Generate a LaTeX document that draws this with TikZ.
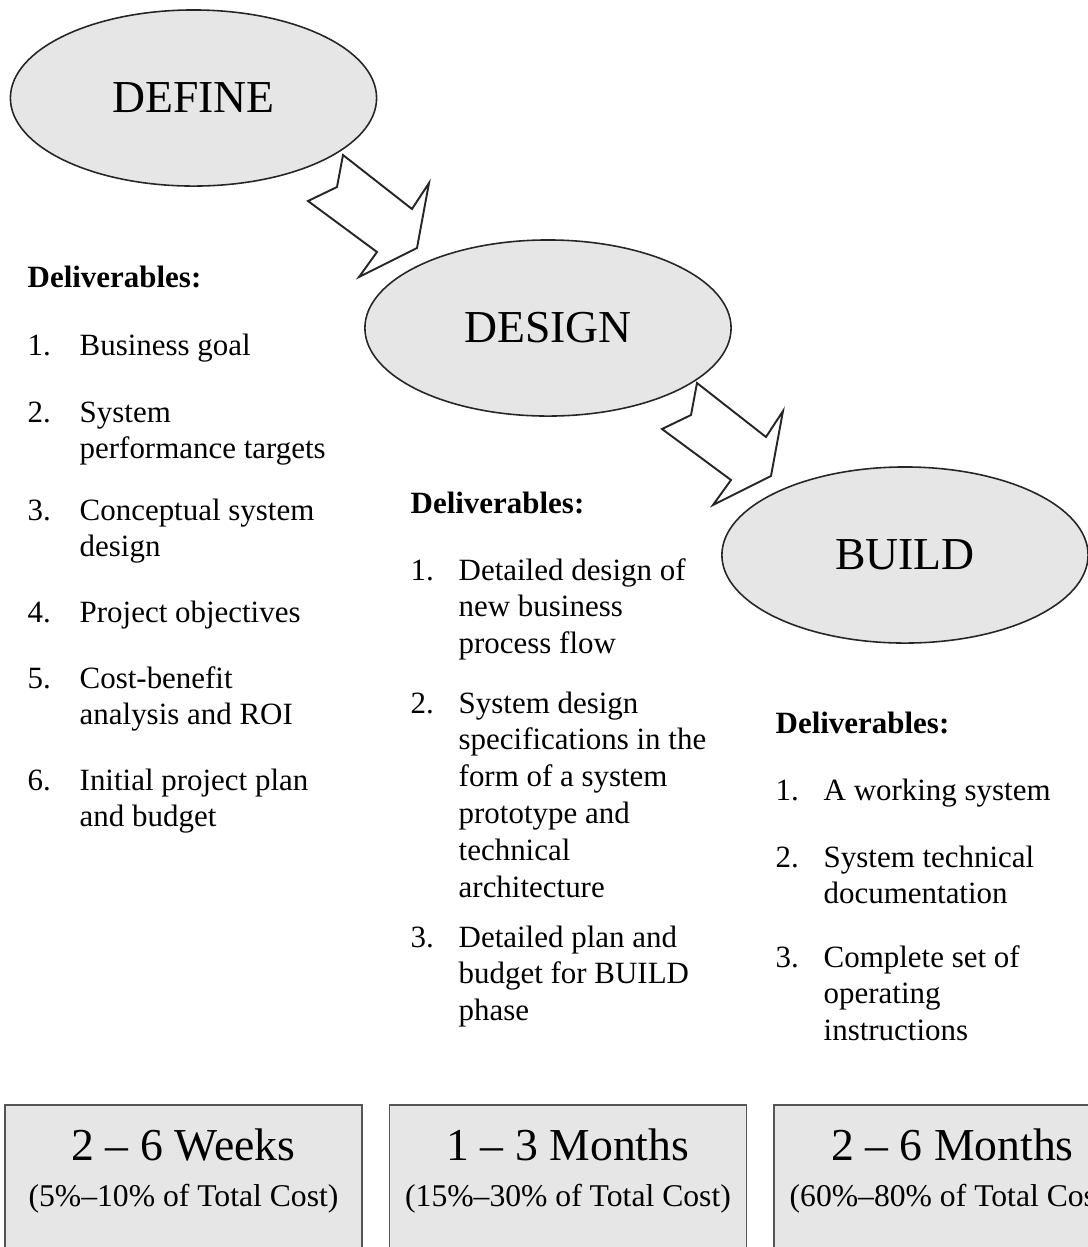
\documentclass[tikz,border=0pt]{standalone}
\usepackage{fontspec}
\setmainfont{Liberation Serif}
\usetikzlibrary{shapes.geometric}
\definecolor{phasegray}{HTML}{E6E6E6}
\definecolor{boxline}{HTML}{555555}
% lines of one deliverable, baseline on the first line
\newcommand{\lines}[1]{\begin{tabular}[t]{@{}l@{}}#1\end{tabular}}
\tikzset{
  phase/.style={ellipse,draw=black!85,line width=0.45pt,fill=phasegray,minimum width=3.66cm,minimum height=1.76cm,inner sep=0pt,font=\fontsize{13}{15}\selectfont},
  costbox/.style={rectangle,draw=boxline,line width=0.5pt,fill=phasegray,minimum width=3.57cm,minimum height=2cm,anchor=north,inner sep=0pt},
  blockarrow/.style={draw=black!85,line width=0.55pt,fill=white,line join=miter},
  head/.style={anchor=base west,inner sep=0pt,font=\fontsize{8.8}{10.5}\selectfont\bfseries},
  num/.style={anchor=base west,inner sep=0pt,font=\fontsize{8.8}{10.5}\selectfont},
  item/.style={anchor=base west,inner sep=0pt,font=\fontsize{8.8}{10.5}\selectfont},
  span/.style={anchor=base,inner sep=0pt,font=\fontsize{13}{15}\selectfont},
  share/.style={anchor=base,inner sep=0pt,font=\fontsize{9}{11}\selectfont},
}

\begin{document}
\begin{tikzpicture}[x=0.01cm,y=-0.01cm]
  \useasboundingbox (0,0) rectangle (1088,1247);
  \clip (0,0) rectangle (1088,1247);
  % the three phases
  \node[phase] (define) at (193.5,98) {DEFINE};
  \node[phase] (design) at (548,328) {DESIGN};
  \node[phase] (build)  at (905,555) {BUILD};
  % hollow block arrows from phase to phase
  \foreach \dx/\dy in {0/0,354/228}
    \draw[blockarrow,shift={(\dx,\dy)}] (343,155) -- (337,187) -- (308,201) -- (377,252)
      -- (359,277) -- (417,248) -- (429,183) -- (412,209) -- cycle;

  % deliverables of DEFINE
  \node[head] (defdel) at (27,287) {Deliverables:};
  \foreach \n/\y/\txt in {1/355/{Business goal},2/422/{System\\performance targets},
      3/520/{Conceptual system\\design},4/622/{Project objectives},
      5/688/{Cost-benefit\\analysis and ROI},6/790/{Initial project plan\\and budget}}{
    \node[num]  (defn\n) at (27,\y) {\n.};
    \node[item] (deft\n) at (79,\y) {\lines{\txt}};
  }

  % deliverables of DESIGN
  \node[head] (desdel) at (410,513) {Deliverables:};
  \foreach \n/\y/\txt in {1/580/{Detailed design of\\new business\\process flow},
      2/713/{System design\\specifications in the\\form of a system\\prototype and\\technical\\architecture},
      3/947/{Detailed plan and\\budget for BUILD\\phase}}{
    \node[num]  (desn\n) at (410,\y) {\n.};
    \node[item] (dest\n) at (458,\y) {\lines{\txt}};
  }

  % deliverables of BUILD
  \node[head] (bldel) at (775,733) {Deliverables:};
  \foreach \n/\y/\txt in {1/800/{A working system},2/867/{System technical\\documentation},
      3/967/{Complete set of\\operating\\instructions}}{
    \node[num]  (bln\n) at (775,\y) {\n.};
    \node[item] (blt\n) at (823,\y) {\lines{\txt}};
  }

  % duration and cost share per phase
  \foreach \name/\x/\dur/\cost in {weeks/183.5/{2 -- 6 Weeks}/{(5\%--10\% of Total Cost)},
      months/568/{1 -- 3 Months}/{(15\%--30\% of Total Cost)},
      longrun/952.5/{2 -- 6 Months}/{(60\%--80\% of Total Cost)}}{
    \node[costbox] (\name) at (\x,1104) {};
    \node[span]  (\name dur)  at (\x,1160) {\dur};
    \node[share] (\name cost) at (\x,1206) {\cost};
  }
\end{tikzpicture}
\end{document}
